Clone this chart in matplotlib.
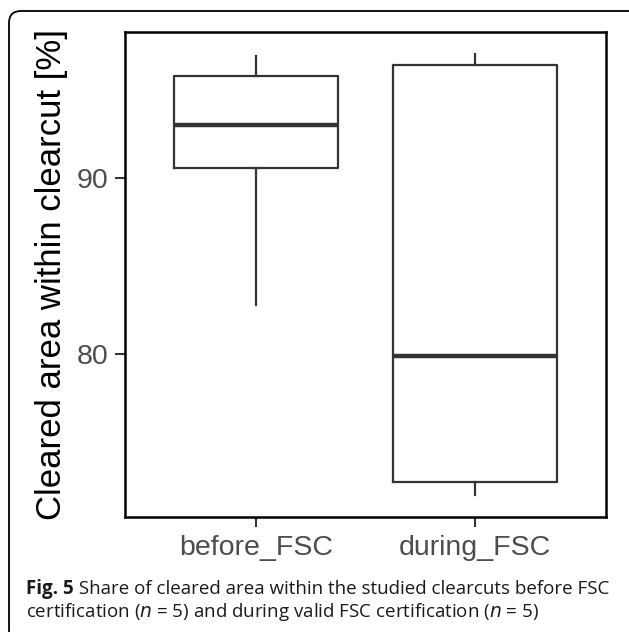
import matplotlib
matplotlib.use("Agg")
import matplotlib.pyplot as plt
import matplotlib.transforms as mtransforms
from matplotlib.patches import FancyBboxPatch

# ....... box statistics (share of cleared area, %) .......
groups = ["before_FSC", "during_FSC"]
whisk_lo = [82.8, 72.0]
q1 = [90.55, 72.7]
med = [93.0, 79.9]
q3 = [95.8, 96.4]
whisk_hi = [96.95, 97.05]

caption_bold = "Fig. 5"
caption_l1 = " Share of cleared area within the studied clearcuts before FSC"
caption_l2 = "certification ($\\mathit{n}$ = 5) and during valid FSC certification ($\\mathit{n}$ = 5)"

fig = plt.figure(figsize=(6.29, 6.32), dpi=100)
ax = fig.add_axes([125 / 629, 1 - 516.7 / 632, 481 / 629, (516.7 - 32) / 632])

stats = []
for i, g in enumerate(groups):
    stats.append({"label": g, "whislo": whisk_lo[i], "q1": q1[i], "med": med[i],
                  "q3": q3[i], "whishi": whisk_hi[i], "fliers": []})

dark = "#333333"
ax.bxp(stats, positions=[1, 2], widths=0.75, showcaps=False, showfliers=False,
       boxprops=dict(color=dark, linewidth=1.6),
       whiskerprops=dict(color=dark, linewidth=1.6),
       medianprops=dict(color=dark, linewidth=3.2, solid_capstyle="butt"))

ax.set_xlim(0.4, 2.6)
ax.set_ylim(70.75, 98.29)
ax.set_yticks([80, 90])
ax.set_xticks([1, 2])
ax.set_xticklabels(groups)

for s in ax.spines.values():
    s.set_color("black")
    s.set_linewidth(1.8)

ax.tick_params(axis="both", length=7, width=1.5, color=dark, labelcolor="#4d4d4d",
               labelsize=20.5)
ax.tick_params(axis="x", pad=6)
ax.tick_params(axis="y", pad=5)
for lab in ax.get_xticklabels() + ax.get_yticklabels():
    lab.set_family("Liberation Sans")

ax.set_ylabel("Cleared area within clearcut [%]", fontsize=25, family="Liberation Sans",
              color="black", labelpad=6)

# ....... caption .......
csize = 13.5
fig.text(26 / 629, 1 - 594 / 632, caption_bold, fontsize=csize, family="Open Sans",
         weight="bold", color="#1a1a1a", va="baseline", ha="left")
t = fig.text(26 / 629, 1 - 594 / 632, caption_bold, fontsize=csize, family="Open Sans",
             weight="bold", alpha=0)
fig.canvas.draw()
bb = t.get_window_extent()
fig.text(bb.x1 / 629, 1 - 594 / 632, caption_l1, fontsize=csize, family="Open Sans",
         color="#1a1a1a", va="baseline", ha="left")
fig.text(26 / 629, 1 - 617 / 632, caption_l2, fontsize=csize, family="Open Sans",
         color="#1a1a1a", va="baseline", ha="left")

# ....... rounded frame (right / bottom run off the page) .......
frame = FancyBboxPatch((9, -10), 640, 632 - 11 + 10,
                       boxstyle="round,pad=0,rounding_size=12",
                       transform=mtransforms.IdentityTransform(),
                       facecolor="none", edgecolor="black", linewidth=1.3)
fig.patches.append(frame)

fig.savefig("out.png", dpi=100)
